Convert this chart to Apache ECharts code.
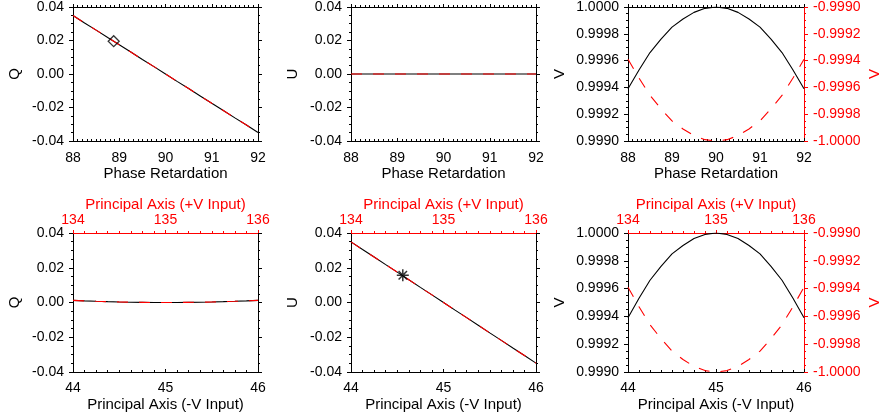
<!DOCTYPE html>
<html>
<head>
<meta charset="utf-8">
<script src="https://cdn.jsdelivr.net/npm/echarts@6/dist/echarts.min.js"></script>
<style>
html, body { margin: 0; padding: 0; background: #fff; }
#main { width: 883px; height: 420px; }
</style>
</head>
<body>
<div id="main"></div>
<script>
// top row: phase retardation sweep
var phase = [88, 88.25, 88.5, 88.75, 89, 89.25, 89.5, 89.75, 90, 90.25, 90.5, 90.75, 91, 91.25, 91.5, 91.75, 92];
var qPhase = [0.0349, 0.0305, 0.0262, 0.0218, 0.0175, 0.0131, 0.0087, 0.0044, 0, -0.0044, -0.0087, -0.0131, -0.0175, -0.0218, -0.0262, -0.0305, -0.0349];
var uPhase = [0, 0, 0, 0, 0, 0, 0, 0, 0, 0, 0, 0, 0, 0, 0, 0, 0];
var vPhase = [0.99939, 0.99953, 0.99966, 0.99976, 0.99985, 0.99991, 0.99996, 0.99999, 1.0, 0.99999, 0.99996, 0.99991, 0.99985, 0.99976, 0.99966, 0.99953, 0.99939];
var vPhaseRed = [-0.99939, -0.99953, -0.99966, -0.99976, -0.99985, -0.99991, -0.99996, -0.99999, -1.0, -0.99999, -0.99996, -0.99991, -0.99985, -0.99976, -0.99966, -0.99953, -0.99939];

// bottom row: principal axis sweep
var pAxis = [44, 44.125, 44.25, 44.375, 44.5, 44.625, 44.75, 44.875, 45, 45.125, 45.25, 45.375, 45.5, 45.625, 45.75, 45.875, 46];
var qAxis = [0.00122, 0.00093, 0.00069, 0.00048, 0.00031, 0.00017, 0.00008, 0.00002, 0, 0.00002, 0.00008, 0.00017, 0.00031, 0.00048, 0.00069, 0.00093, 0.00122];
var uAxis = [0.0349, 0.0305, 0.0262, 0.0218, 0.0175, 0.0131, 0.0087, 0.0044, 0, -0.0044, -0.0087, -0.0131, -0.0175, -0.0218, -0.0262, -0.0305, -0.0349];
var vAxis = [0.99939, 0.99953, 0.99966, 0.99976, 0.99985, 0.99991, 0.99996, 0.99999, 1.0, 0.99999, 0.99996, 0.99991, 0.99985, 0.99976, 0.99966, 0.99953, 0.99939];
var vAxisRed = [-0.99939, -0.99953, -0.99966, -0.99976, -0.99985, -0.99991, -0.99996, -0.99999, -1.0, -0.99999, -0.99996, -0.99991, -0.99985, -0.99976, -0.99966, -0.99953, -0.99939];

var diamondPoint = [88.88, 0.0196];
var starPoint = [44.56, 0.0157];

var FONT = 'Liberation Sans';
var RED = '#ff0000';

function zip(xs, ys) {
	var out = [];
	for (var i = 0; i < xs.length; i++) out.push([xs[i], ys[i]]);
	return out;
}

function fmt(d) {
	return function (v) {
		if (Math.abs(v) < 1e-9) v = 0;
		return v.toFixed(d);
	};
}

function xAx(grid, pos, min, max, color, name, labels, minorN, gap, margin) {
	return {
		type: 'value', gridIndex: grid, position: pos, min: min, max: max, interval: 1,
		name: name, nameLocation: 'middle', nameGap: gap,
		nameTextStyle: { color: color, fontFamily: FONT, fontSize: 15 },
		axisLine: { show: true, onZero: false, lineStyle: { color: color, width: 1 } },
		axisTick: { show: true, inside: pos == 'bottom', length: 3, lineStyle: { color: color } },
		minorTick: { show: true, splitNumber: minorN, length: 2, lineStyle: { color: color } },
		axisLabel: { show: labels, color: color, fontFamily: FONT, fontSize: 14, margin: margin,
			showMinLabel: true, showMaxLabel: true },
		splitLine: { show: false }
	};
}

function yAx(grid, pos, min, max, step, dec, color, name, labels, gap) {
	return {
		type: 'value', gridIndex: grid, position: pos, min: min, max: max, interval: step,
		name: name, nameLocation: 'middle', nameGap: gap, nameRotate: 90,
		nameTextStyle: { color: color, fontFamily: FONT, fontSize: 15 },
		axisLine: { show: true, onZero: false, lineStyle: { color: color, width: 1 } },
		axisTick: { show: true, length: 4, lineStyle: { color: color } },
		minorTick: { show: true, splitNumber: 4, length: 2, lineStyle: { color: color } },
		axisLabel: { show: labels, color: color, fontFamily: FONT, fontSize: 14, margin: 9,
			formatter: fmt(dec), showMinLabel: true, showMaxLabel: true },
		splitLine: { show: false }
	};
}

var lefts = [73, 351, 628];
var widths = [185, 185, 184];
var grids = [];
for (var r = 0; r < 2; r++) {
	for (var c = 0; c < 3; c++) {
		grids.push({ left: lefts[c], top: r == 0 ? 2 : 233, width: widths[c], height: 139 });
	}
}

var xAxes = [], yAxes = [];
// top row
for (var g = 0; g < 3; g++) {
	xAxes.push(xAx(g, 'bottom', 88, 92, '#000', 'Phase Retardation', true, 10, 24, 10));
	xAxes.push(xAx(g, 'top', 88, 92, '#000', '', false, 10, 20, 6));
}
// bottom row
for (var g = 3; g < 6; g++) {
	xAxes.push(xAx(g, 'bottom', 44, 46, '#000', 'Principal Axis (-V Input)', true, 8, 25, 9));
	xAxes.push(xAx(g, 'top', 134, 136, RED, 'Principal Axis (+V Input)', true, 8, 17, 6));
}

yAxes.push(yAx(0, 'left', -0.04, 0.04, 0.02, 2, '#000', 'Q', true, 51));
yAxes.push(yAx(0, 'right', -0.04, 0.04, 0.02, 2, '#000', '', false, 40));
yAxes.push(yAx(1, 'left', -0.04, 0.04, 0.02, 2, '#000', 'U', true, 51));
yAxes.push(yAx(1, 'right', -0.04, 0.04, 0.02, 2, '#000', '', false, 40));
yAxes.push(yAx(2, 'left', 0.999, 1.0, 0.0002, 4, '#000', 'V', true, 61));
yAxes.push(yAx(2, 'right', -1.0, -0.999, 0.0002, 4, RED, 'V', true, 63));
yAxes.push(yAx(3, 'left', -0.04, 0.04, 0.02, 2, '#000', 'Q', true, 51));
yAxes.push(yAx(3, 'right', -0.04, 0.04, 0.02, 2, '#000', '', false, 40));
yAxes.push(yAx(4, 'left', -0.04, 0.04, 0.02, 2, '#000', 'U', true, 51));
yAxes.push(yAx(4, 'right', -0.04, 0.04, 0.02, 2, '#000', '', false, 40));
yAxes.push(yAx(5, 'left', 0.999, 1.0, 0.0002, 4, '#000', 'V', true, 61));
yAxes.push(yAx(5, 'right', -1.0, -0.999, 0.0002, 4, RED, 'V', true, 63));

function solid(g, data) {
	return { type: 'line', xAxisIndex: 2 * g, yAxisIndex: 2 * g, data: data, showSymbol: false,
		lineStyle: { color: '#000', width: 1.1 }, z: 2 };
}
function dashed(g, yi, data) {
	return { type: 'line', xAxisIndex: 2 * g, yAxisIndex: yi, data: data, showSymbol: false,
		lineStyle: { color: RED, width: 1.1, type: [11, 11] }, z: 3 };
}

var series = [
	solid(0, zip(phase, qPhase)), dashed(0, 0, zip(phase, qPhase)),
	solid(1, zip(phase, uPhase)), dashed(1, 2, zip(phase, uPhase)),
	solid(2, zip(phase, vPhase)), dashed(2, 5, zip(phase, vPhaseRed)),
	solid(3, zip(pAxis, qAxis)), dashed(3, 6, zip(pAxis, qAxis)),
	solid(4, zip(pAxis, uAxis)), dashed(4, 8, zip(pAxis, uAxis)),
	solid(5, zip(pAxis, vAxis)), dashed(5, 11, zip(pAxis, vAxisRed)),
	{ type: 'scatter', xAxisIndex: 0, yAxisIndex: 0, data: [diamondPoint], symbol: 'diamond', symbolSize: 11,
		itemStyle: { color: 'transparent', borderColor: '#000', borderWidth: 1.3 }, z: 5 },
	{ type: 'scatter', xAxisIndex: 8, yAxisIndex: 8, data: [starPoint],
		symbol: 'path://M5,0L5,10M0,5L10,5M1.5,1.5L8.5,8.5M1.5,8.5L8.5,1.5', symbolSize: 12,
		itemStyle: { color: 'transparent', borderColor: '#000', borderWidth: 1.5 }, z: 5 }
];

var chart = echarts.init(document.getElementById('main'));
chart.setOption({
	animation: false,
	backgroundColor: '#fff',
	grid: grids,
	xAxis: xAxes,
	yAxis: yAxes,
	series: series
});
</script>
</body>
</html>
